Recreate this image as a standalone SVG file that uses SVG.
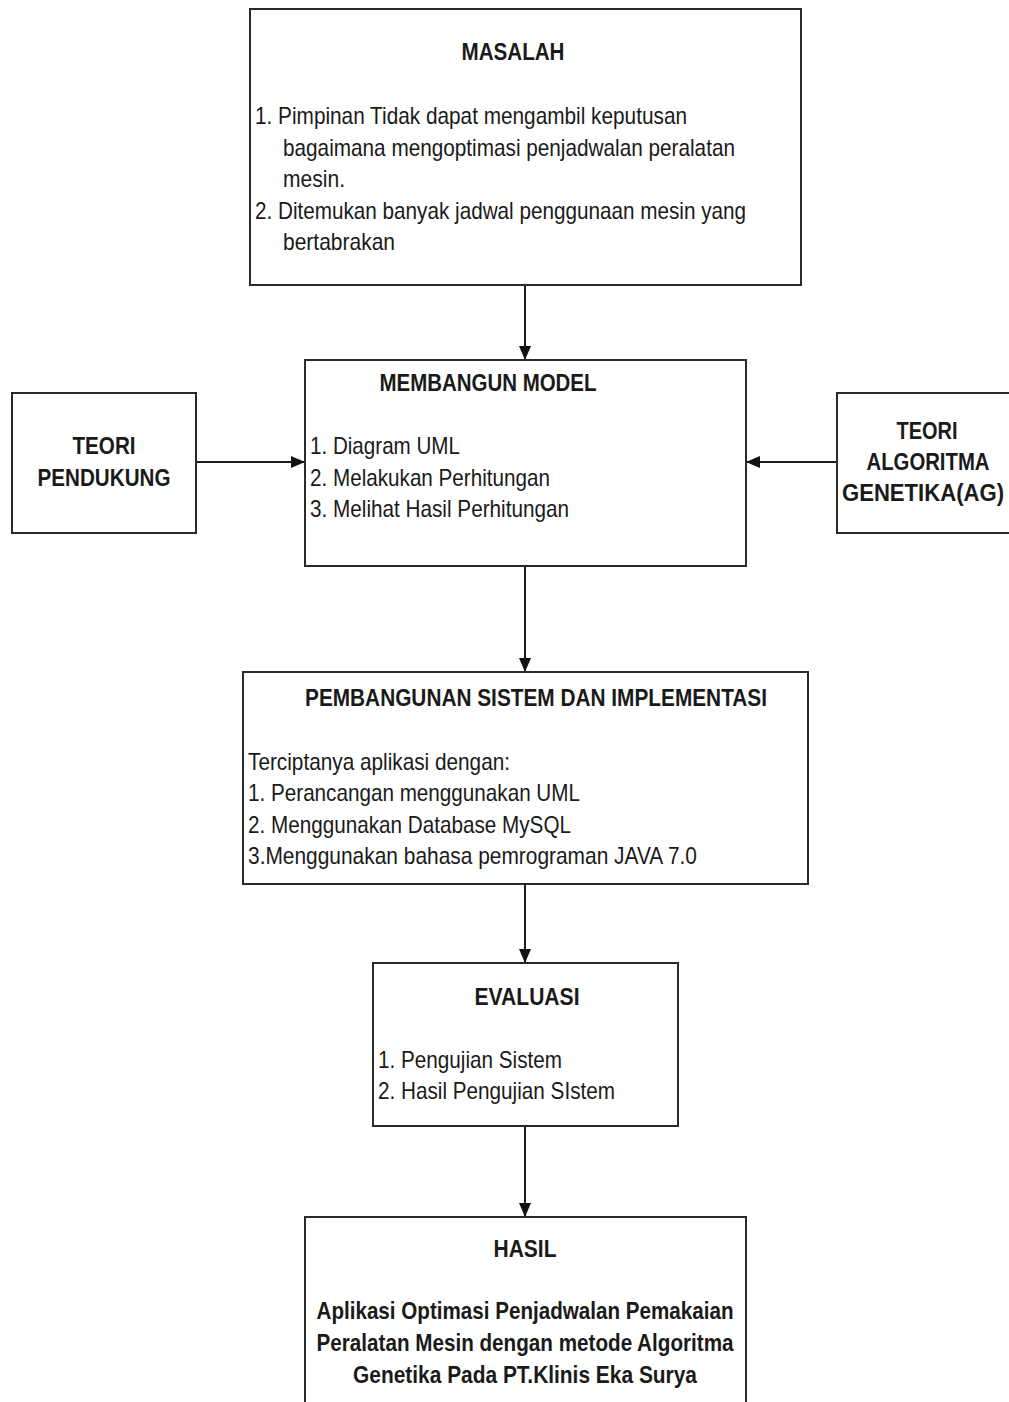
<svg xmlns="http://www.w3.org/2000/svg" width="1009" height="1402" viewBox="0 0 1009 1402">
<defs>
<marker id="ah" markerWidth="14" markerHeight="12" refX="13" refY="6" orient="auto" markerUnits="userSpaceOnUse">
<path d="M0,0 L14,6 L0,12 Z" fill="#111"/>
</marker>
<style>
.box{fill:#fff;stroke:#2a2a2a;stroke-width:2}
.t{font-family:"Liberation Sans",Arial,sans-serif;font-size:24px;fill:#1a1a1a}
.b{font-weight:bold}
.c{text-anchor:middle}
.con{stroke:#1a1a1a;stroke-width:2;fill:none;marker-end:url(#ah)}
</style>
</defs>
<rect width="1009" height="1402" fill="#fff"/>
<g id="connectors">
<line class="con" x1="525" y1="286" x2="525" y2="359"/>
<line class="con" x1="197" y1="462" x2="304" y2="462"/>
<line class="con" x1="836" y1="462" x2="747" y2="462"/>
<line class="con" x1="525" y1="567" x2="525" y2="671"/>
<line class="con" x1="525" y1="885" x2="525" y2="962"/>
<line class="con" x1="525" y1="1127" x2="525" y2="1216"/>
</g>
<g id="masalah">
<rect class="box" x="250" y="9" width="551" height="276"/>
<text class="t b c" x="513" y="60" textLength="103" lengthAdjust="spacingAndGlyphs">MASALAH</text>
<text class="t" x="255" y="124" textLength="432" lengthAdjust="spacingAndGlyphs">1. Pimpinan Tidak dapat mengambil keputusan</text>
<text class="t" x="283" y="156" textLength="452" lengthAdjust="spacingAndGlyphs">bagaimana mengoptimasi penjadwalan peralatan</text>
<text class="t" x="283" y="187" textLength="62" lengthAdjust="spacingAndGlyphs">mesin.</text>
<text class="t" x="255" y="219" textLength="491" lengthAdjust="spacingAndGlyphs">2. Ditemukan banyak jadwal penggunaan mesin yang</text>
<text class="t" x="283" y="250" textLength="112" lengthAdjust="spacingAndGlyphs">bertabrakan</text>
</g>
<g id="membangun">
<rect class="box" x="305" y="360" width="441" height="206"/>
<text class="t b c" x="488" y="391" textLength="217" lengthAdjust="spacingAndGlyphs">MEMBANGUN MODEL</text>
<text class="t" x="310" y="454" textLength="150" lengthAdjust="spacingAndGlyphs">1. Diagram UML</text>
<text class="t" x="310" y="486" textLength="240" lengthAdjust="spacingAndGlyphs">2. Melakukan Perhitungan</text>
<text class="t" x="310" y="517" textLength="259" lengthAdjust="spacingAndGlyphs">3. Melihat Hasil Perhitungan</text>
</g>
<g id="teori-pendukung">
<rect class="box" x="12" y="393" width="184" height="140"/>
<text class="t b c" x="104" y="454" textLength="63" lengthAdjust="spacingAndGlyphs">TEORI</text>
<text class="t b c" x="104" y="486" textLength="133" lengthAdjust="spacingAndGlyphs">PENDUKUNG</text>
</g>
<g id="teori-ag">
<rect class="box" x="837" y="393" width="180" height="140"/>
<text class="t b c" x="927" y="439" textLength="61" lengthAdjust="spacingAndGlyphs">TEORI</text>
<text class="t b c" x="928" y="470" textLength="123" lengthAdjust="spacingAndGlyphs">ALGORITMA</text>
<text class="t b c" x="923" y="501" textLength="162" lengthAdjust="spacingAndGlyphs">GENETIKA(AG)</text>
</g>
<g id="pembangunan">
<rect class="box" x="243" y="672" width="565" height="212"/>
<text class="t b c" x="536" y="706" textLength="462" lengthAdjust="spacingAndGlyphs">PEMBANGUNAN SISTEM DAN IMPLEMENTASI</text>
<text class="t" x="248" y="770" textLength="262" lengthAdjust="spacingAndGlyphs">Terciptanya aplikasi dengan:</text>
<text class="t" x="248" y="801" textLength="332" lengthAdjust="spacingAndGlyphs">1. Perancangan menggunakan UML</text>
<text class="t" x="248" y="833" textLength="323" lengthAdjust="spacingAndGlyphs">2. Menggunakan Database MySQL</text>
<text class="t" x="248" y="864" textLength="449" lengthAdjust="spacingAndGlyphs">3.Menggunakan bahasa pemrograman JAVA 7.0</text>
</g>
<g id="evaluasi">
<rect class="box" x="373" y="963" width="305" height="163"/>
<text class="t b c" x="527" y="1005" textLength="105" lengthAdjust="spacingAndGlyphs">EVALUASI</text>
<text class="t" x="378" y="1068" textLength="184" lengthAdjust="spacingAndGlyphs">1. Pengujian Sistem</text>
<text class="t" x="378" y="1099" textLength="237" lengthAdjust="spacingAndGlyphs">2. Hasil Pengujian SIstem</text>
</g>
<g id="hasil">
<rect class="box" x="305" y="1217" width="441" height="200"/>
<text class="t b c" x="525" y="1257" textLength="63" lengthAdjust="spacingAndGlyphs">HASIL</text>
<text class="t b c" x="525" y="1319" textLength="417" lengthAdjust="spacingAndGlyphs">Aplikasi Optimasi Penjadwalan Pemakaian</text>
<text class="t b c" x="525" y="1351" textLength="417" lengthAdjust="spacingAndGlyphs">Peralatan Mesin dengan metode Algoritma</text>
<text class="t b c" x="525" y="1383" textLength="344" lengthAdjust="spacingAndGlyphs">Genetika Pada PT.Klinis Eka Surya</text>
</g>
</svg>
